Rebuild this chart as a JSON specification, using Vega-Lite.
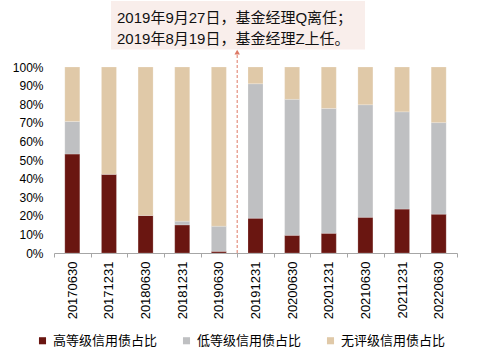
{
  "$schema": "https://vega.github.io/schema/vega-lite/v6.json",
  "width": 403,
  "height": 186,
  "autosize": {"type": "none"},
  "padding": {"left": 54, "top": 67, "right": 26, "bottom": 109},
  "background": "white",
  "config": {
    "font": "Liberation Sans, Noto Sans CJK SC",
    "view": {"stroke": null},
    "axis": {"labelFont": "Liberation Sans, Noto Sans CJK SC", "labelColor": "#000000", "grid": false, "title": null},
    "axisY": {"labelOverlap": false, "domain": false, "ticks": false, "labelPadding": 11, "labelFontSize": 12},
    "legend": {"labelFont": "Noto Sans CJK SC", "labelColor": "#000000"}
  },
  "layer": [
    {
      "data": {
        "values": [
          {"date": "20170630", "type": "高等级信用债占比", "k": 1, "share": 0.532},
          {"date": "20170630", "type": "低等级信用债占比", "k": 2, "share": 0.175},
          {"date": "20170630", "type": "无评级信用债占比", "k": 3, "share": 0.293},
          {"date": "20171231", "type": "高等级信用债占比", "k": 1, "share": 0.423},
          {"date": "20171231", "type": "低等级信用债占比", "k": 2, "share": 0.0},
          {"date": "20171231", "type": "无评级信用债占比", "k": 3, "share": 0.577},
          {"date": "20180630", "type": "高等级信用债占比", "k": 1, "share": 0.202},
          {"date": "20180630", "type": "低等级信用债占比", "k": 2, "share": 0.0},
          {"date": "20180630", "type": "无评级信用债占比", "k": 3, "share": 0.798},
          {"date": "20181231", "type": "高等级信用债占比", "k": 1, "share": 0.151},
          {"date": "20181231", "type": "低等级信用债占比", "k": 2, "share": 0.02},
          {"date": "20181231", "type": "无评级信用债占比", "k": 3, "share": 0.829},
          {"date": "20190630", "type": "高等级信用债占比", "k": 1, "share": 0.009},
          {"date": "20190630", "type": "低等级信用债占比", "k": 2, "share": 0.135},
          {"date": "20190630", "type": "无评级信用债占比", "k": 3, "share": 0.856},
          {"date": "20191231", "type": "高等级信用债占比", "k": 1, "share": 0.187},
          {"date": "20191231", "type": "低等级信用债占比", "k": 2, "share": 0.723},
          {"date": "20191231", "type": "无评级信用债占比", "k": 3, "share": 0.09},
          {"date": "20200630", "type": "高等级信用债占比", "k": 1, "share": 0.095},
          {"date": "20200630", "type": "低等级信用债占比", "k": 2, "share": 0.731},
          {"date": "20200630", "type": "无评级信用债占比", "k": 3, "share": 0.174},
          {"date": "20201231", "type": "高等级信用债占比", "k": 1, "share": 0.106},
          {"date": "20201231", "type": "低等级信用债占比", "k": 2, "share": 0.671},
          {"date": "20201231", "type": "无评级信用债占比", "k": 3, "share": 0.223},
          {"date": "20210630", "type": "高等级信用债占比", "k": 1, "share": 0.192},
          {"date": "20210630", "type": "低等级信用债占比", "k": 2, "share": 0.605},
          {"date": "20210630", "type": "无评级信用债占比", "k": 3, "share": 0.203},
          {"date": "20211231", "type": "高等级信用债占比", "k": 1, "share": 0.236},
          {"date": "20211231", "type": "低等级信用债占比", "k": 2, "share": 0.523},
          {"date": "20211231", "type": "无评级信用债占比", "k": 3, "share": 0.241},
          {"date": "20220630", "type": "高等级信用债占比", "k": 1, "share": 0.209},
          {"date": "20220630", "type": "低等级信用债占比", "k": 2, "share": 0.492},
          {"date": "20220630", "type": "无评级信用债占比", "k": 3, "share": 0.299}
        ]
      },
      "mark": {"type": "bar", "width": {"band": 0.41}, "stroke": "#ffffff", "strokeWidth": 0.4, "strokeOpacity": 0.5},
      "encoding": {
        "x": {
          "field": "date",
          "type": "nominal",
          "sort": null,
          "scale": {"domain": ["20170630","20171231","20180630","20181231","20190630","20191231","20200630","20201231","20210630","20211231","20220630"], "paddingInner": 0, "paddingOuter": 0},
          "axis": {"labelAngle": -90, "labelFontSize": 13, "tickBand": "extent", "domainColor": "#A6A6A6", "tickColor": "#A6A6A6", "tickSize": 4, "labelPadding": 4, "labelAlign": "right", "labelBaseline": "middle"}
        },
        "y": {
          "field": "share",
          "type": "quantitative",
          "stack": "zero",
          "scale": {"domain": [0, 1]},
          "axis": {"values": [0, 0.1, 0.2, 0.3, 0.4, 0.5, 0.6, 0.7, 0.8, 0.9, 1], "format": ".0%", "labelOverlap": false}
        },
        "color": {
          "field": "type",
          "type": "nominal",
          "scale": {"domain": ["高等级信用债占比", "低等级信用债占比", "无评级信用债占比"], "range": ["#6A1611", "#BFC0C2", "#E0C9A8"]},
          "legend": {"orient": "none", "legendX": -18, "legendY": 267, "direction": "horizontal", "title": null, "symbolType": "square", "symbolSize": 50, "symbolStrokeWidth": 0, "labelFontSize": 13, "labelOffset": 4, "columnPadding": 22}
        },
        "order": {"field": "k", "type": "quantitative"}
      }
    },
    {
      "data": {"values": [{"note": "box"}]},
      "mark": {"type": "rect", "fill": "#F9EEEB"},
      "encoding": {
        "x": {"datum": "20171231", "type": "nominal", "bandPosition": 0.556},
        "x2": {"datum": "20210630", "bandPosition": 0.49},
        "y": {"datum": 1.355, "type": "quantitative", "axis": {"values": [0, 0.1, 0.2, 0.3, 0.4, 0.5, 0.6, 0.7, 0.8, 0.9, 1], "format": ".0%", "labelOverlap": false}},
        "y2": {"datum": 1.094}
      }
    },
    {
      "data": {"values": [{"note": "text"}]},
      "mark": {"type": "text", "text": ["2019年9月27日，基金经理Q离任；", "2019年8月19日，基金经理Z上任。"], "align": "left", "baseline": "middle", "lineHeight": 21, "fontSize": 15, "color": "#111111", "font": "Liberation Sans, Noto Sans CJK SC"},
      "encoding": {
        "x": {"datum": "20171231", "type": "nominal", "bandPosition": 0.72},
        "y": {"datum": 1.262, "type": "quantitative", "axis": {"values": [0, 0.1, 0.2, 0.3, 0.4, 0.5, 0.6, 0.7, 0.8, 0.9, 1], "format": ".0%", "labelOverlap": false}}
      }
    },
    {
      "data": {"values": [{"note": "rule"}]},
      "mark": {"type": "rule", "color": "#DE7A66", "strokeDash": [3, 2], "strokeWidth": 1},
      "encoding": {
        "x": {"datum": "20191231", "type": "nominal", "bandPosition": 0},
        "y": {"datum": 0, "type": "quantitative", "axis": {"values": [0, 0.1, 0.2, 0.3, 0.4, 0.5, 0.6, 0.7, 0.8, 0.9, 1], "format": ".0%", "labelOverlap": false}},
        "y2": {"datum": 1.07}
      }
    },
    {
      "data": {"values": [{"note": "arrow"}]},
      "mark": {"type": "point", "shape": "triangle-up", "filled": true, "color": "#DE7A66", "size": 30, "opacity": 1},
      "encoding": {
        "x": {"datum": "20191231", "type": "nominal", "bandPosition": 0},
        "y": {"datum": 1.08, "type": "quantitative", "axis": {"values": [0, 0.1, 0.2, 0.3, 0.4, 0.5, 0.6, 0.7, 0.8, 0.9, 1], "format": ".0%", "labelOverlap": false}}
      }
    }
  ]
}
